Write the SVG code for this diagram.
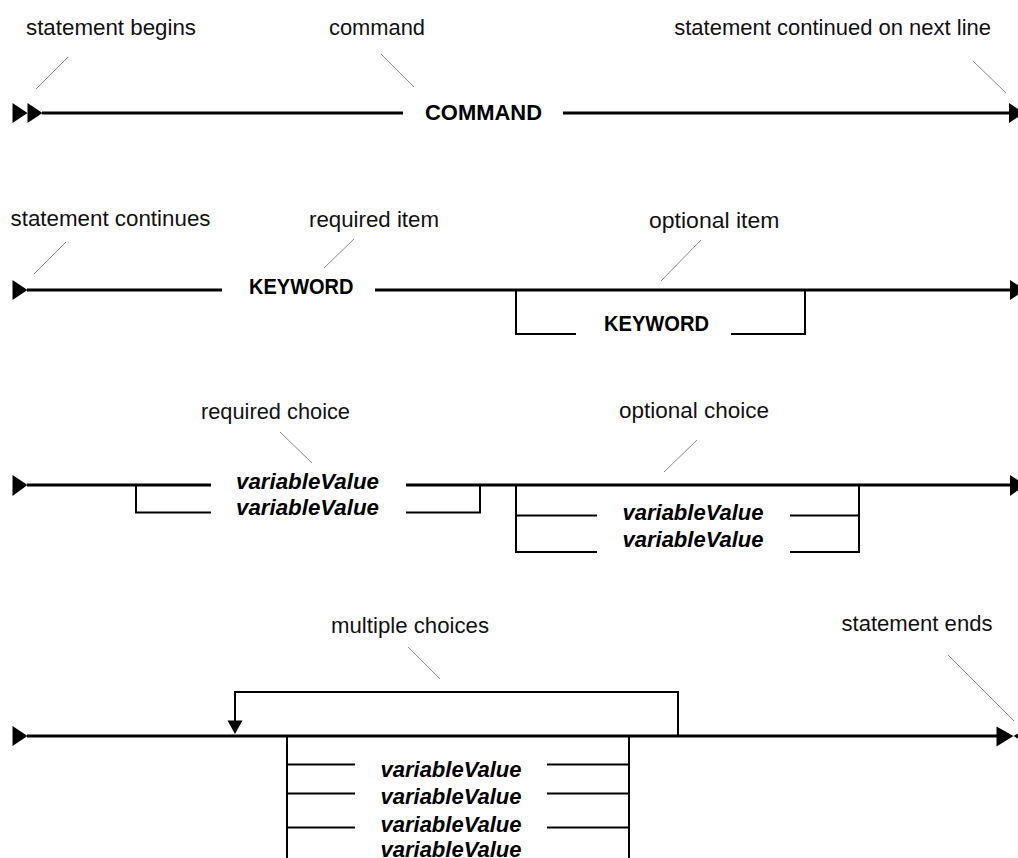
<svg xmlns="http://www.w3.org/2000/svg" width="1018" height="858" viewBox="0 0 1018 858">
<style>
.lbl{font-family:"Liberation Sans",Arial,sans-serif;font-size:22px;fill:#111}
.kw{font-family:"Liberation Sans",Arial,sans-serif;font-size:22px;font-weight:bold;fill:#000}
.var{font-family:"Liberation Sans",Arial,sans-serif;font-size:22px;font-weight:bold;font-style:italic;fill:#000}
.ln{stroke:#000;stroke-width:3;fill:none}
.thin{stroke:#000;stroke-width:2;fill:none}
.lead{stroke:#8a8a8a;stroke-width:1;fill:none}
.ah{fill:#000}
</style>
<rect width="1018" height="858" fill="#fff"/>
<g id="connectors">
  <!-- row 1 -->
  <polygon class="ah" points="12.5,103 27.5,113 12.5,123"/>
  <polygon class="ah" points="27.5,103 42.5,113 27.5,123"/>
  <line class="ln" x1="42" y1="113" x2="403" y2="113"/>
  <line class="ln" x1="563" y1="113" x2="1010" y2="113"/>
  <polygon class="ah" points="1009,103 1024,113 1009,123"/>
  <!-- row 2 -->
  <polygon class="ah" points="12.5,280 27.5,290 12.5,300"/>
  <line class="ln" x1="27" y1="290" x2="222" y2="290"/>
  <line class="ln" x1="375" y1="290" x2="1011" y2="290"/>
  <polygon class="ah" points="1010,280 1025,290 1010,300"/>
  <path class="thin" d="M516,290 V334 H576 M731,334 H805 V290"/>
  <!-- row 3 -->
  <polygon class="ah" points="12.5,475 27.5,485 12.5,496"/>
  <line class="ln" x1="27" y1="485" x2="211" y2="485"/>
  <path class="thin" d="M136,485 V512.5 H211"/>
  <line class="ln" x1="406" y1="485" x2="1011" y2="485"/>
  <path class="thin" d="M406,512.5 H480 V485"/>
  <path class="thin" d="M516,485 V552 H597 M516,515.5 H597 M790,515.5 H859 M790,552 H859 V485"/>
  <polygon class="ah" points="1010,475 1025,485 1010,496"/>
  <!-- row 4 -->
  <polygon class="ah" points="12.5,726 27.5,736 12.5,746"/>
  <line class="ln" x1="27" y1="736" x2="998" y2="736"/>
  <path class="thin" d="M678,736 V692 H235 V722"/>
  <polygon class="ah" points="227.5,720.5 242.5,720.5 235,734"/>
  <path class="thin" d="M287,736 V860 M629,736 V860"/>
  <path class="thin" d="M287,764.5 H355 M287,793.5 H355 M287,827.5 H355 M547,764.5 H629 M547,793.5 H629 M547,827.5 H629"/>
  <polygon class="ah" points="996.5,726.5 1013.5,736 996.5,746.5"/>
  <polygon class="ah" points="1030,726.5 1013.5,736 1030,746.5"/>
  <!-- leader lines -->
  <line class="lead" x1="68" y1="57" x2="36" y2="89"/>
  <line class="lead" x1="381" y1="54" x2="414" y2="87"/>
  <line class="lead" x1="973" y1="61" x2="1006" y2="93"/>
  <line class="lead" x1="66" y1="242" x2="34" y2="274"/>
  <line class="lead" x1="354" y1="239" x2="324" y2="268"/>
  <line class="lead" x1="701" y1="240" x2="661" y2="281"/>
  <line class="lead" x1="280" y1="432" x2="312" y2="463"/>
  <line class="lead" x1="697" y1="440" x2="664" y2="472"/>
  <line class="lead" x1="408" y1="647" x2="440" y2="679"/>
  <line class="lead" x1="948" y1="655" x2="1014" y2="721"/>
</g>
<g id="label-statement-begins"><text class="lbl" x="26" y="35" textLength="170" lengthAdjust="spacingAndGlyphs">statement begins</text></g>
<g id="label-command"><text class="lbl" x="329" y="35" textLength="96" lengthAdjust="spacingAndGlyphs">command</text></g>
<g id="label-continued"><text class="lbl" x="991" y="35" text-anchor="end">statement continued on next line</text></g>
<g id="node-command"><text class="kw" x="425" y="119.5" textLength="117" lengthAdjust="spacingAndGlyphs">COMMAND</text></g>
<g id="label-statement-continues"><text class="lbl" x="10.5" y="226" textLength="200" lengthAdjust="spacingAndGlyphs">statement continues</text></g>
<g id="label-required-item"><text class="lbl" x="309" y="227" textLength="130" lengthAdjust="spacingAndGlyphs">required item</text></g>
<g id="label-optional-item"><text class="lbl" x="649" y="228" textLength="130.5" lengthAdjust="spacingAndGlyphs">optional item</text></g>
<g id="node-keyword-required"><text class="kw" x="249" y="294" textLength="104.5" lengthAdjust="spacingAndGlyphs">KEYWORD</text></g>
<g id="node-keyword-optional"><text class="kw" x="604" y="331" textLength="105" lengthAdjust="spacingAndGlyphs">KEYWORD</text></g>
<g id="label-required-choice"><text class="lbl" x="201" y="419" textLength="149" lengthAdjust="spacingAndGlyphs">required choice</text></g>
<g id="label-optional-choice"><text class="lbl" x="619" y="418" textLength="150" lengthAdjust="spacingAndGlyphs">optional choice</text></g>
<g id="node-required-choice">
  <text class="var" x="236" y="488.5" textLength="143" lengthAdjust="spacingAndGlyphs">variableValue</text>
  <text class="var" x="236" y="514.5" textLength="143" lengthAdjust="spacingAndGlyphs">variableValue</text>
</g>
<g id="node-optional-choice">
  <text class="var" x="622.5" y="519.5" textLength="141" lengthAdjust="spacingAndGlyphs">variableValue</text>
  <text class="var" x="622.5" y="546.5" textLength="141" lengthAdjust="spacingAndGlyphs">variableValue</text>
</g>
<g id="label-multiple-choices"><text class="lbl" x="331" y="633" textLength="158" lengthAdjust="spacingAndGlyphs">multiple choices</text></g>
<g id="label-statement-ends"><text class="lbl" x="841.5" y="631" textLength="151" lengthAdjust="spacingAndGlyphs">statement ends</text></g>
<g id="node-multiple-choices">
  <text class="var" x="380.5" y="776.5" textLength="141" lengthAdjust="spacingAndGlyphs">variableValue</text>
  <text class="var" x="380.5" y="804" textLength="141" lengthAdjust="spacingAndGlyphs">variableValue</text>
  <text class="var" x="380.5" y="831.5" textLength="141" lengthAdjust="spacingAndGlyphs">variableValue</text>
  <text class="var" x="380.5" y="856.5" textLength="141" lengthAdjust="spacingAndGlyphs">variableValue</text>
</g>
</svg>
